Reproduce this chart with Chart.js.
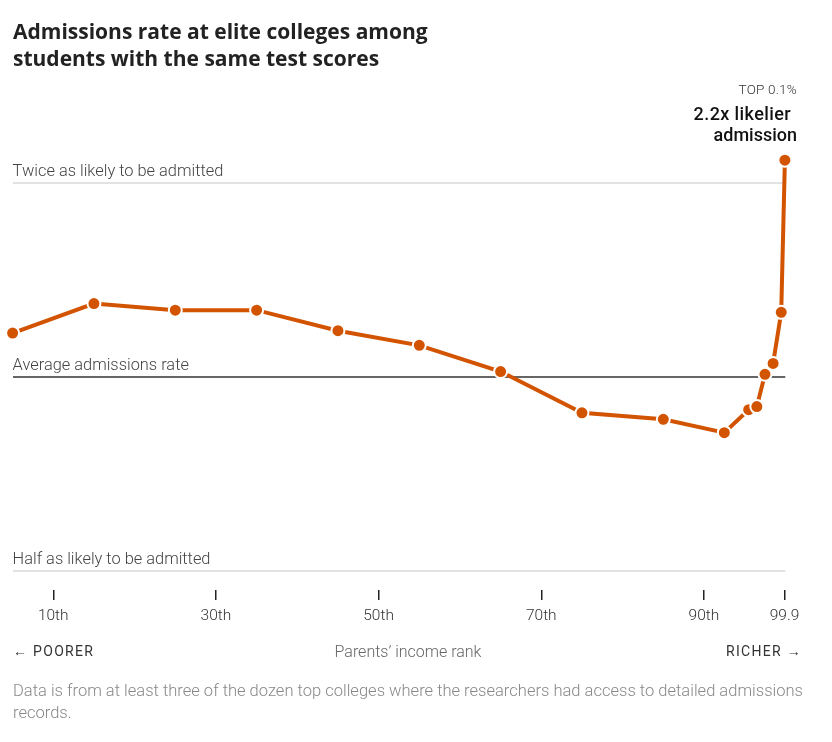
<!DOCTYPE html>
<html><head><meta charset="utf-8">
<script src="https://cdn.jsdelivr.net/npm/chart.js@4.4.1/dist/chart.umd.min.js"></script>
<style>
html,body{margin:0;padding:0;background:#fff;}
body{width:832px;height:742px;position:relative;overflow:hidden;font-family:Roboto,"Noto Sans",sans-serif;}
#c{position:absolute;left:0;top:0;}
.t{position:absolute;white-space:nowrap;}
</style></head><body>
<canvas id="c" width="832" height="742"></canvas>
<div class="t" style="left:13px;top:18px;font-family:'Open Sans',Roboto,sans-serif;font-size:21px;font-weight:700;line-height:27px;color:#222">Admissions rate at elite colleges among<br>students with the same test scores</div>
<div class="t" style="right:35px;top:81px;font-size:13.5px;font-weight:300;color:#333;letter-spacing:0.2px">TOP 0.1%</div>
<div class="t" style="right:41px;top:103px;font-size:18px;font-weight:500;color:#111;line-height:21px;letter-spacing:0.4px">2.2x likelier</div>
<div class="t" style="right:35px;top:124px;font-size:18px;font-weight:500;color:#111;line-height:21px">admission</div>
<div class="t" style="left:13px;top:643px;font-size:14px;color:#333;letter-spacing:1.3px">&#8592; POORER</div>
<div class="t" style="left:0;width:816px;text-align:center;top:642px;font-size:16px;font-weight:300;color:#666">Parents’ income rank</div>
<div class="t" style="right:30px;top:643px;font-size:14px;color:#333;letter-spacing:1.3px">RICHER &#8594;</div>
<div class="t" style="left:13px;top:680px;font-size:16.55px;font-weight:300;color:#888;line-height:22px">Data is from at least three of the dozen top colleges where the researchers had access to detailed admissions<br>records.</div>
<script>
const incomeRank = [5, 15, 25, 35, 45, 55, 65, 75, 85, 92.5, 95.5, 96.5, 97.5, 98.5, 99.5, 99.95];
const admissionRatio = [1.17, 1.30, 1.27, 1.27, 1.18, 1.12, 1.02, 0.88, 0.86, 0.82, 0.89, 0.90, 1.01, 1.05, 1.26, 2.17];
const xTickValues = [10, 30, 50, 70, 90, 99.9];
const xTickLabels = ['10th', '30th', '50th', '70th', '90th', '99.9'];
const yTickValues = [0.5, 1, 2];
const yTickLabels = ['Half as likely to be admitted', 'Average admissions rate', 'Twice as likely to be admitted'];

const lineColor = '#d35400';
new Chart(document.getElementById('c'), {
  type: 'line',
  data: {
    datasets: [{
      data: incomeRank.map((x, i) => ({x: x, y: admissionRatio[i]})),
      borderColor: lineColor,
      borderWidth: 4,
      pointRadius: 6.5,
      pointBackgroundColor: lineColor,
      pointBorderColor: '#fff',
      pointBorderWidth: 2,
      tension: 0,
      clip: false
    }]
  },
  options: {
    responsive: false,
    animation: false,
    devicePixelRatio: 1,
    layout: {padding: {left: 12.6, right: 46.7, top: 150, bottom: 109.3}},
    plugins: {legend: {display: false}, tooltip: {enabled: false}},
    scales: {
      x: {
        type: 'linear', min: 5, max: 100,
        afterBuildTicks: s => { s.ticks = xTickValues.map(v => ({value: v})); },
        ticks: {autoSkip: false, maxRotation: 0, padding: 7, color: '#333',
          font: {family: 'Roboto', size: 15.5, weight: '300'},
          callback: (v, i) => xTickLabels[i]},
        grid: {drawOnChartArea: false, drawTicks: true, tickLength: 10, color: '#222', lineWidth: 1.5},
        border: {display: false}
      },
      y: {
        type: 'logarithmic', min: 0.4673, max: 2.25,
        afterBuildTicks: s => { s.ticks = yTickValues.map(v => ({value: v})); },
        ticks: {autoSkip: false, mirror: true, padding: 0, labelOffset: -11.5, color: '#444',
          font: {family: 'Roboto', size: 16.4, weight: '300'},
          callback: (v, i) => yTickLabels[i]},
        grid: {drawTicks: false, lineWidth: 2,
          color: ctx => (ctx.tick && ctx.tick.value === 1) ? '#666' : '#e2e2e2'},
        border: {display: false}
      }
    }
  }
});
</script>
</body></html>
